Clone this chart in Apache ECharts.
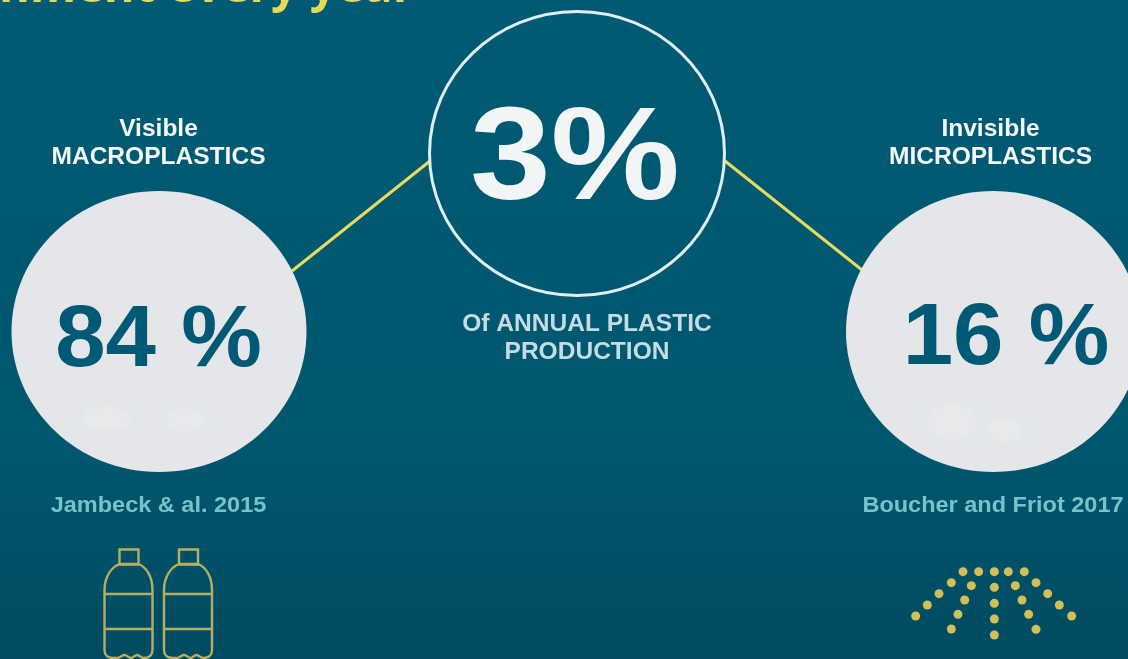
<!DOCTYPE html>
<html>
<head>
<meta charset="utf-8">
<title>Plastic leaking into the environment</title>
<script src="https://cdn.jsdelivr.net/npm/echarts@6/dist/echarts.min.js"></script>
<style>html,body{margin:0;padding:0;background:#005a75}#chart{width:1128px;height:659px}</style>
</head>
<body>
<div id="chart"></div>
<script>
// Values shown in the three circles
var totalShare = [3];
var plasticShares = [84, 16];
var shareNames = [['Visible', 'MACROPLASTICS'], ['Invisible', 'MICROPLASTICS']];
var shareSources = ['Jambeck & al. 2015', 'Boucher and Friot 2017'];
var totalCaption = ['Of ANNUAL PLASTIC', 'PRODUCTION'];
var headline = 'nment every year';

// Layout, in the pixel space of the hidden axes
var sharePlaces = [{ cx: 159, cy: 331.5, tx: 158.5, ty: 342 }, { cx: 993.5, cy: 331.5, tx: 1006, ty: 340 }];
var totalPlace = { cx: 577, cy: 153.5, tx: 575, ty: 163 };
var connectors = [[[292, 271], [430, 161]], [[725, 161], [862, 270]]];
var bottleLefts = [104, 163.5];
var sprayDots = [
  [219,65],[266,65],[313,65],[355,65],[403,65],
  [184,98],[244,107],[313,112],[376,107],[438,98],
  [147,131],[224,150],[313,160],[396,150],[473,131],
  [112,165],[204,193],[313,207],[416,193],[508,165],
  [77,198],[184,237],[313,255],[438,238],[545,198]
];

var SANS = '"Liberation Sans", Arial, sans-serif';
var TEAL = '#005a75';

function bigNumber(api, text, x, y, size, scaleX, fill) {
  var p = api.coord([x, y]);
  return {
    type: 'text', x: p[0], y: p[1], scaleX: scaleX, z2: 5,
    style: { text: text, fill: fill, font: 'bold ' + size + 'px ' + SANS, align: 'center', verticalAlign: 'middle' }
  };
}

function shareItem(params, api) {
  var place = sharePlaces[params.dataIndex];
  var c = api.coord([place.cx, place.cy]);
  return {
    type: 'group',
    children: [
      { type: 'ellipse', shape: { cx: c[0], cy: c[1], rx: 147.5, ry: 140.5 }, style: { fill: '#e4e6e9' } },
      bigNumber(api, api.value(0) + ' %', place.tx, place.ty, 88, 1.03, TEAL)
    ]
  };
}

function totalItem(params, api) {
  var c = api.coord([totalPlace.cx, totalPlace.cy]);
  return {
    type: 'group',
    children: [
      { type: 'ellipse', shape: { cx: c[0], cy: c[1], rx: 147.5, ry: 142 }, style: { fill: 'none', stroke: '#dfeef2', lineWidth: 3 } },
      bigNumber(api, api.value(0) + '%', totalPlace.tx, totalPlace.ty, 132, 1.1, '#f2f5f6')
    ]
  };
}

// One bottle outline, placed by its left edge
function bottleItem(params, api) {
  var stroke = { fill: 'none', stroke: '#b8ae60', lineWidth: 2.4 };
  return {
    type: 'group', x: api.value(0), y: 0,
    children: [
      { type: 'rect', shape: { x: 15.5, y: 549.5, width: 19, height: 15 }, style: stroke },
      { type: 'path', shape: { pathData: 'M0.5 650 L0.5 590 C0.5 576 8 567 15.5 564 L34.5 564 C42 567 48.5 576 48.5 590 L48.5 650 C48.5 655 45 658 40 658 C37 658 35 655 33 655 C31 655 29 658 27 658 C25 658 23 655 20.5 655 C18.5 655 16 658 13 658 L9 658 C4 658 0.5 655 0.5 650 Z' }, style: stroke },
      { type: 'line', shape: { x1: 0.5, y1: 594, x2: 48.5, y2: 594 }, style: stroke },
      { type: 'line', shape: { x1: 0.5, y1: 629, x2: 48.5, y2: 629 }, style: stroke }
    ]
  };
}

function labelText(text, x, y, size, fill) {
  return { type: 'text', x: x, y: y, scaleX: 1.04, z: 6, style: { text: text, fill: fill, font: 'bold ' + size + 'px ' + SANS, align: 'center', verticalAlign: 'middle' } };
}

var graphics = [
  { type: 'text', x: -1, y: 12, z: 6, style: { text: headline, fill: '#e8d956', font: 'bold 47px "Open Sans", sans-serif', align: 'left', verticalAlign: 'bottom' } },
  labelText(shareNames[0][0], 158.5, 129, 23.6, '#f4f7f8'),
  labelText(shareNames[0][1], 158.5, 157, 23.6, '#f4f7f8'),
  labelText(shareNames[1][0], 990.5, 129, 23.6, '#f4f7f8'),
  labelText(shareNames[1][1], 990.5, 157, 23.6, '#f4f7f8'),
  labelText(totalCaption[0], 587, 324, 23.6, '#c4dde4'),
  labelText(totalCaption[1], 587, 352, 23.6, '#c4dde4'),
  labelText(shareSources[0], 158.5, 506, 22.6, '#78c2cb'),
  labelText(shareSources[1], 993, 506, 22.6, '#78c2cb')
];

sprayDots.forEach(function (d) {
  graphics.push({ type: 'circle', z: 6, shape: { cx: 890 + d[0] / 3, cy: 550 + d[1] / 3, r: 4.5 }, style: { fill: '#d3bf57' } });
});

// Faint paler patches low on the two white discs
[[107, 418, 24, 11], [185, 420, 18, 11], [952, 422, 24, 16], [1005, 430, 16, 12]].forEach(function (b) {
  graphics.push({ type: 'ellipse', z: 4, shape: { cx: b[0], cy: b[1], rx: b[2], ry: b[3] }, style: { fill: '#e7e9eb', shadowBlur: 16, shadowColor: '#e7e9eb' } });
});

var chart = echarts.init(document.getElementById('chart'), null, { renderer: 'canvas' });
chart.setOption({
  animation: false,
  backgroundColor: {
    type: 'linear', x: 0, y: 0, x2: 0, y2: 1,
    colorStops: [
      { offset: 0, color: '#005a73' },
      { offset: 0.65, color: '#00586f' },
      { offset: 1, color: '#004b61' }
    ]
  },
  grid: { left: 0, right: 0, top: 0, bottom: 0 },
  xAxis: { type: 'value', min: 0, max: 1128, show: false },
  yAxis: { type: 'value', min: 0, max: 659, inverse: true, show: false },
  graphic: graphics,
  series: [
    {
      type: 'line', name: 'left link', data: connectors[0], symbol: 'none', z: 1, silent: true,
      lineStyle: { color: '#e6dc5e', width: 3 }
    },
    {
      type: 'line', name: 'right link', data: connectors[1], symbol: 'none', z: 1, silent: true,
      lineStyle: { color: '#e6dc5e', width: 3 }
    },
    {
      type: 'custom', name: 'Share of leakage', z: 2, silent: true, clip: false,
      renderItem: shareItem, encode: { x: 0 },
      data: plasticShares.map(function (v) { return [v]; })
    },
    {
      type: 'custom', name: 'Share of production', z: 2, silent: true, clip: false,
      renderItem: totalItem, encode: { x: 0 },
      data: totalShare.map(function (v) { return [v]; })
    },
    {
      type: 'custom', name: 'Bottles', z: 3, silent: true, clip: false,
      renderItem: bottleItem, encode: { x: 0 },
      data: bottleLefts.map(function (v) { return [v]; })
    }
  ]
});
</script>
</body>
</html>
